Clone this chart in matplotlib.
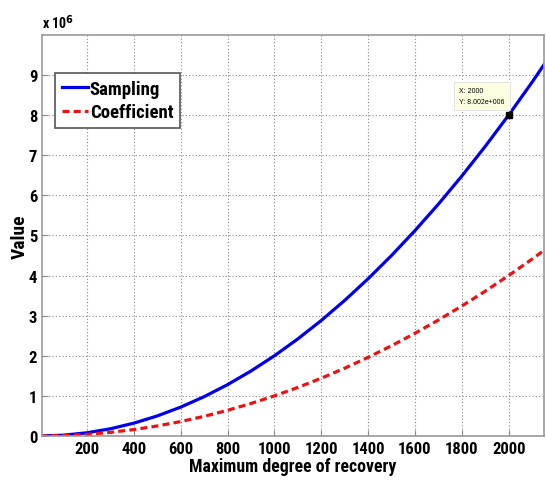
import matplotlib
matplotlib.use("Agg")
import matplotlib.pyplot as plt
from matplotlib import font_manager

names = {f.name for f in font_manager.fontManager.ttflist}
narrow = [n for n in ["Liberation Sans Narrow", "DejaVu Sans Condensed", "Roboto Condensed"] if n in names]
plt.rcParams["font.family"] = narrow + ["Liberation Sans", "DejaVu Sans"]
plt.rcParams["font.weight"] = "bold"

# degree of recovery and values (x 10^6)
degree = [0, 100, 200, 300, 400, 500, 600, 700, 800, 900, 1000, 1100,
          1200, 1300, 1400, 1500, 1600, 1700, 1800, 1900, 2000, 2100, 2200]
sampling = [0.0, 0.02, 0.08, 0.18, 0.32, 0.50, 0.72, 0.98, 1.28, 1.62, 2.00, 2.42,
            2.88, 3.38, 3.92, 4.50, 5.12, 5.78, 6.48, 7.22, 8.00, 8.82, 9.68]
coefficient = [0.0, 0.01, 0.04, 0.09, 0.16, 0.25, 0.36, 0.49, 0.64, 0.81, 1.00, 1.21,
               1.44, 1.69, 1.96, 2.25, 2.56, 2.89, 3.24, 3.61, 4.00, 4.41, 4.84]
tip_x, tip_y = 2000, 8.002

fig = plt.figure(figsize=(5.46, 4.81), dpi=100)
ax = fig.add_axes([0.077, 0.0915, 0.919, 0.834])

ax.plot(degree, sampling, color="#0000ee", lw=2.3, label="Sampling")
ax.plot(degree, coefficient, color="#ee1111", lw=2.3, ls=(0, (2.2, 1.3)), label="Coefficient")

ax.set_xlim(8, 2150)
ax.set_ylim(0, 10)
ax.set_xticks(range(200, 2001, 200))
ax.set_yticks(range(0, 10))
ax.tick_params(direction="in", labelsize=12, length=4, color="#888888")
for s in ax.spines.values():
    s.set_color("#999999")
    s.set_linewidth(1.2)
ax.grid(True, ls=(0, (1, 2)), color="#888888", lw=0.8)

ax.set_xlabel("Maximum degree of recovery", fontsize=12.8, fontweight="bold", labelpad=1)
ax.set_ylabel("Value", fontsize=14, fontweight="bold", labelpad=0)
ax.text(0.0, 1.01, r"x 10$^{6}$", transform=ax.transAxes, fontsize=10, fontweight="bold",
        ha="left", va="bottom")

leg = ax.legend(loc="upper left", bbox_to_anchor=(0.026, 0.905), handlelength=1.4,
                handletextpad=0.1, borderpad=0.35, labelspacing=0.3, fancybox=False,
                framealpha=1, borderaxespad=0, prop={"size": 13.5, "weight": "bold"})
leg.get_frame().set_edgecolor("#555555")
leg.get_frame().set_linewidth(1.2)

# data tip
ax.plot([tip_x], [tip_y], marker="s", color="black", ms=5, zorder=5)
ax.text(1790, 8.48, "X: 2000\nY: 8.002e+006", fontsize=5, fontweight="normal",
        family=["Liberation Sans", "DejaVu Sans"],
        va="center", ha="left", linespacing=1.7,
        bbox=dict(boxstyle="square,pad=0.8", fc="#ffffe1", ec="#dddddd", lw=0.6))

fig.savefig("out.png", dpi=100)
